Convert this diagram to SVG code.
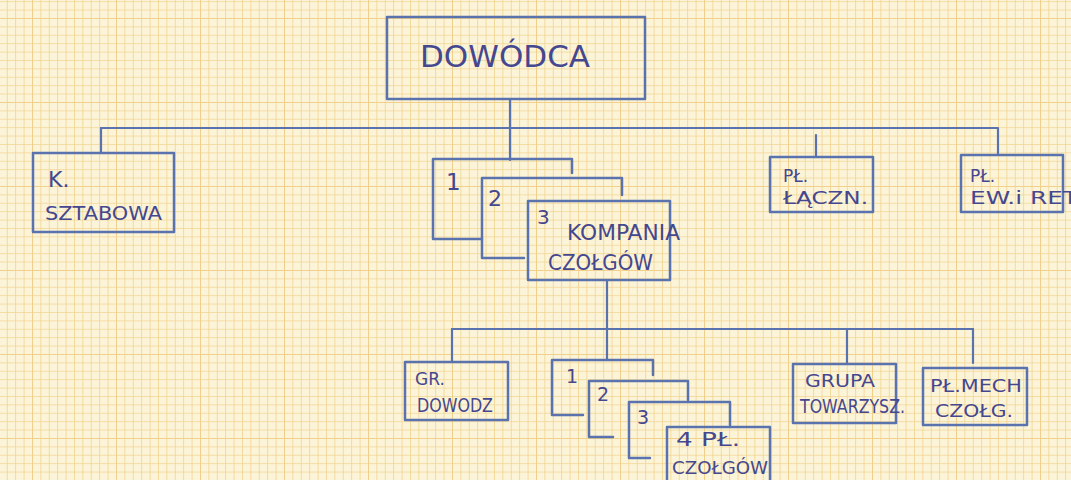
<svg xmlns="http://www.w3.org/2000/svg" width="1071" height="480" viewBox="0 0 1071 480">
<style>
.box{fill:none;stroke:#5a72ad;stroke-width:2.5;stroke-linejoin:round;stroke-linecap:round}
.con{fill:none;stroke:#5a72ad;stroke-width:2.2;stroke-linecap:round}
.t{font-family:"DejaVu Sans","Liberation Sans",sans-serif;fill:#45478f}
</style>
<defs>
<pattern id="minor" patternUnits="userSpaceOnUse" x="32" y="18" width="8.4" height="8.4">
<rect width="8.4" height="8.4" fill="#fcf4d8"/>
<path d="M0,0H8.4M0,0V8.4" stroke="#f1d490" stroke-width="1.6"/>
</pattern>
<pattern id="major" patternUnits="userSpaceOnUse" x="32" y="18" width="84" height="84">
<path d="M0,0H84M0,0V84" stroke="#f0d08a" stroke-width="1.9"/>
</pattern>
</defs>
<rect width="1071" height="480" fill="url(#minor)"/>
<rect width="1071" height="480" fill="url(#major)"/>

<g id="connectors">
<path class="con" d="M510,100V160"/>
<path class="con" d="M101,128H997"/>
<path class="con" d="M101,128V153"/>
<path class="con" d="M816,135V157"/>
<path class="con" d="M998,128V155"/>
<path class="con" d="M607,280V360"/>
<path class="con" d="M452,329H973"/>
<path class="con" d="M452,329V362"/>
<path class="con" d="M847,329V364"/>
<path class="con" d="M973,329V363"/>
</g>

<g id="dowodca">
<rect class="box" x="387" y="17" width="258" height="82"/>
<text class="t" x="420" y="67" font-size="31" textLength="170" lengthAdjust="spacingAndGlyphs">DOWÓDCA</text>
</g>

<g id="k-sztabowa">
<rect class="box" x="33" y="153" width="141" height="79"/>
<text class="t" x="48" y="187" font-size="22">K.</text>
<text class="t" x="45" y="220" font-size="20" textLength="117" lengthAdjust="spacingAndGlyphs">SZTABOWA</text>
</g>

<g id="kompania">
<path class="box" d="M433,239V159H572V173M433,239H482"/>
<path class="box" d="M482,258V178H622V195M482,258H524"/>
<rect class="box" x="528" y="201" width="142" height="79"/>
<text class="t" x="446" y="190" font-size="23">1</text>
<text class="t" x="488" y="206" font-size="22">2</text>
<text class="t" x="537" y="224" font-size="20">3</text>
<text class="t" x="567" y="240" font-size="21" textLength="113" lengthAdjust="spacingAndGlyphs">KOMPANIA</text>
<text class="t" x="548" y="270" font-size="21" textLength="105" lengthAdjust="spacingAndGlyphs">CZOŁGÓW</text>
</g>

<g id="pl-laczn">
<rect class="box" x="770" y="157" width="103" height="55"/>
<text class="t" x="783" y="182" font-size="17">PŁ.</text>
<text class="t" x="783" y="204" font-size="17" textLength="85" lengthAdjust="spacingAndGlyphs">ŁĄCZN.</text>
</g>

<g id="pl-ew">
<rect class="box" x="961" y="155" width="102" height="57"/>
<text class="t" x="970" y="182" font-size="17">PŁ.</text>
<text class="t" x="970" y="204" font-size="17" textLength="108" lengthAdjust="spacingAndGlyphs">EW.i RET</text>
</g>

<g id="gr-dowodz">
<rect class="box" x="405" y="362" width="103" height="58"/>
<text class="t" x="415" y="385" font-size="17">GR.</text>
<text class="t" x="417" y="412" font-size="19" textLength="76" lengthAdjust="spacingAndGlyphs">DOWODZ</text>
</g>

<g id="pl-czolgow">
<path class="box" d="M552,415V360H653V375M552,415H583"/>
<path class="box" d="M589,437V381H688V400M589,437H613"/>
<path class="box" d="M629,458V402H730V425M629,458H650"/>
<path class="box" d="M667,484V427H770V484"/>
<text class="t" x="566" y="383" font-size="19">1</text>
<text class="t" x="597" y="401" font-size="19">2</text>
<text class="t" x="637" y="424" font-size="19">3</text>
<text class="t" x="676" y="446" font-size="19" textLength="64" lengthAdjust="spacingAndGlyphs">4 PŁ.</text>
<text class="t" x="672" y="474" font-size="18" textLength="96" lengthAdjust="spacingAndGlyphs">CZOŁGÓW</text>
</g>

<g id="grupa">
<rect class="box" x="793" y="364" width="103" height="59"/>
<text class="t" x="805" y="387" font-size="17" textLength="70" lengthAdjust="spacingAndGlyphs">GRUPA</text>
<text class="t" x="800" y="413" font-size="19" textLength="105" lengthAdjust="spacingAndGlyphs">TOWARZYSZ.</text>
</g>

<g id="pl-mech">
<rect class="box" x="923" y="368" width="104" height="57"/>
<text class="t" x="930" y="392" font-size="17" textLength="92" lengthAdjust="spacingAndGlyphs">PŁ.MECH</text>
<text class="t" x="935" y="417" font-size="17" textLength="78" lengthAdjust="spacingAndGlyphs">CZOŁG.</text>
</g>
</svg>
